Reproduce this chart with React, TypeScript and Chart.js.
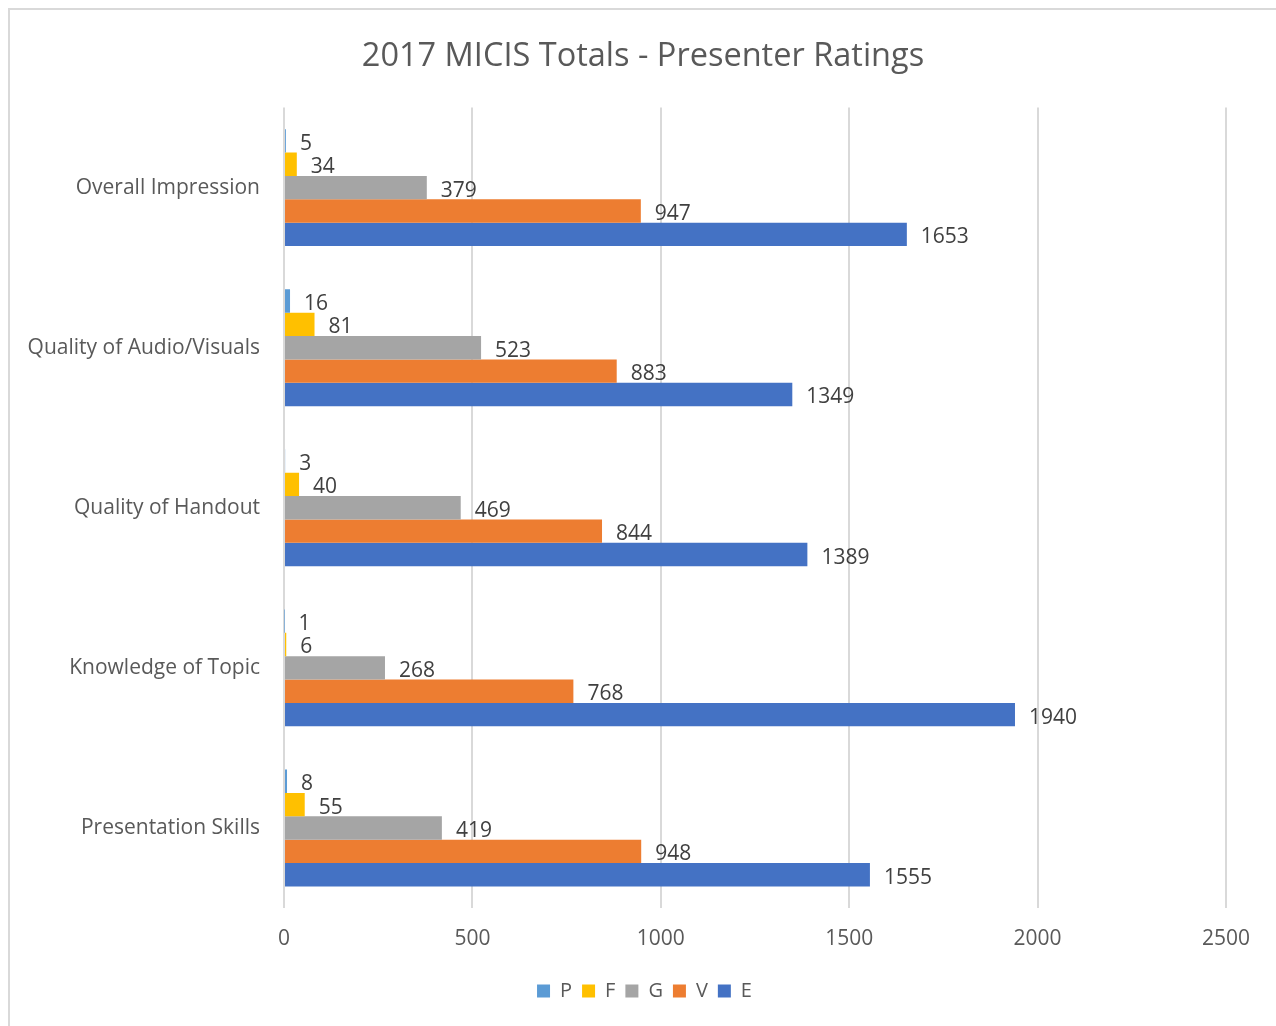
import React, { useEffect, useRef } from "react";
import { Chart, registerables } from "chart.js";

Chart.register(...registerables);

const categories = [
  "Overall Impression",
  "Quality of Audio/Visuals",
  "Quality of Handout",
  "Knowledge of Topic",
  "Presentation Skills",
];
const seriesNames = ["P", "F", "G", "V", "E"];
const pValues = [5, 16, 3, 1, 8];
const fValues = [34, 81, 40, 6, 55];
const gValues = [379, 523, 469, 268, 419];
const vValues = [947, 883, 844, 768, 948];
const eValues = [1653, 1349, 1389, 1940, 1555];
const seriesColors = ["#5B9BD5", "#FFC000", "#A5A5A5", "#ED7D31", "#4472C4"];
const xMin = 0;
const xMax = 2500;
const xStep = 500;
const titleText = "2017 MICIS Totals - Presenter Ratings";

const FONT = "'Open Sans', 'Noto Sans', sans-serif";

const valueLabels = {
  id: "valueLabels",
  afterDatasetsDraw(chart: any) {
    const ctx = chart.ctx;
    ctx.save();
    ctx.font = `21px ${FONT}`;
    ctx.fillStyle = "#404040";
    ctx.textAlign = "left";
    ctx.textBaseline = "middle";
    chart.data.datasets.forEach((ds: any, di: number) => {
      const meta = chart.getDatasetMeta(di);
      meta.data.forEach((el: any, i: number) => {
        ctx.fillText(String(ds.data[i]), el.x + 14, el.y + 3);
      });
    });
    ctx.restore();
  },
};

const centeredTitle = {
  id: "centeredTitle",
  afterLayout(chart: any) {
    // let the category labels extend to the left edge without clipping
    if (chart.scales.y) chart.scales.y.left = 0;
  },
  afterDraw(chart: any) {
    const ctx = chart.ctx;
    ctx.save();
    ctx.font = `32.5px ${FONT}`;
    ctx.fillStyle = "#595959";
    ctx.textAlign = "center";
    ctx.textBaseline = "middle";
    ctx.fillText(titleText, chart.width / 2, 47);
    ctx.restore();
  },
};

export default function App() {
  const ref = useRef<HTMLCanvasElement>(null);
  useEffect(() => {
    if (!ref.current) return;
    const all = [pValues, fValues, gValues, vValues, eValues];
    const chart = new Chart(ref.current, {
      type: "bar",
      data: {
        labels: categories,
        datasets: seriesNames.map((n, i) => ({
          label: n,
          data: all[i],
          backgroundColor: seriesColors[i],
          borderWidth: 0,
          categoryPercentage: 0.73,
          barPercentage: 1,
        })),
      },
      options: {
        indexAxis: "y",
        animation: false,
        responsive: false,
        maintainAspectRatio: false,
        layout: { padding: { left: 53, right: 50, top: 0, bottom: 15 } },
        plugins: {
          title: {
            display: true,
            text: titleText,
            color: "rgba(0,0,0,0)",
            font: { family: FONT, size: 28, weight: "normal" },
            padding: { top: 28, bottom: 36 },
          },
          legend: {
            position: "bottom",
            labels: {
              boxWidth: 13,
              boxHeight: 13,
              padding: 10,
              color: "#595959",
              font: { family: FONT, size: 20 },
            },
          },
          tooltip: { enabled: false },
        },
        scales: {
          x: {
            min: xMin,
            max: xMax,
            ticks: {
              stepSize: xStep,
              color: "#595959",
              font: { family: FONT, size: 21 },
              padding: 18,
              callback: (v: any) => String(v),
            },
            grid: { color: "#d9d9d9", lineWidth: 2, drawTicks: false },
            border: { display: false },
            afterFit: (s: any) => {
              s.height = 63;
            },
          },
          y: {
            ticks: {
              color: "#595959",
              font: { family: FONT, size: 21 },
              padding: 24,
            },
            grid: { display: false, drawTicks: false },
            border: { display: false },
            afterFit: (s: any) => {
              s.width = 221;
            },
          },
        },
      },
      plugins: [valueLabels, centeredTitle],
    } as any);
    return () => chart.destroy();
  }, []);
  return (
    <div
      style={{
        position: "fixed",
        left: 8,
        top: 8,
        width: 1268,
        height: 1018,
        borderLeft: "2px solid #d9d9d9",
        borderTop: "2px solid #d9d9d9",
        background: "#fff",
      }}
    >
      <canvas ref={ref} width={1266} height={1016} style={{ display: "block" }} />
    </div>
  );
}
